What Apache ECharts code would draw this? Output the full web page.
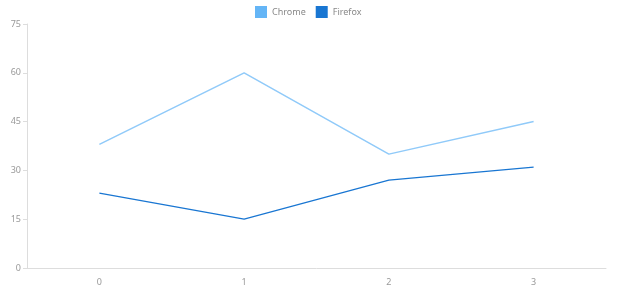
<!DOCTYPE html>
<html><head><meta charset="utf-8">
<script src="https://cdn.jsdelivr.net/npm/echarts@6/dist/echarts.min.js"></script>
<style>html,body{margin:0;padding:0;background:#fff}#c{width:620px;height:300px}</style>
</head><body><div id="c"></div>
<script>
const categories = ['0', '1', '2', '3'];
const chromeValues = [38, 60, 35, 45];
const firefoxValues = [23, 15, 27, 31];
const yTicks = { min: 0, max: 75, interval: 15 };

const chart = echarts.init(document.getElementById('c'));
chart.setOption({
  animation: false,
  textStyle: { fontFamily: 'Noto Sans' },
  legend: {
    left: 255, top: 6, padding: 0, itemWidth: 12, itemHeight: 12, itemGap: 10,
    icon: 'rect',
    textStyle: { color: '#888', fontSize: 9 },
    data: ['Chrome', 'Firefox']
  },
  grid: { left: 27, right: 14, top: 24, bottom: 32 },
  xAxis: {
    type: 'category', data: categories, boundaryGap: true,
    axisLine: { lineStyle: { color: '#ddd' } },
    axisTick: { lineStyle: { color: '#ddd' }, length: 4 },
    axisLabel: { color: '#999', fontSize: 9, margin: 10 },
    splitLine: { show: false }
  },
  yAxis: {
    type: 'value', min: yTicks.min, max: yTicks.max, interval: yTicks.interval,
    axisLine: { show: true, lineStyle: { color: '#ddd' } },
    axisTick: { show: true, lineStyle: { color: '#ddd' }, length: 4 },
    axisLabel: { color: '#999', fontSize: 9, margin: 6 },
    splitLine: { show: false }
  },
  series: [
    { name: 'Chrome', type: 'line', data: chromeValues, showSymbol: false,
      itemStyle: { color: '#64b5f6' }, lineStyle: { color: '#90caf9', width: 1.5 } },
    { name: 'Firefox', type: 'line', data: firefoxValues, showSymbol: false,
      itemStyle: { color: '#1976d2' }, lineStyle: { color: '#1976d2', width: 1.2 } }
  ]
});
</script></body></html>
